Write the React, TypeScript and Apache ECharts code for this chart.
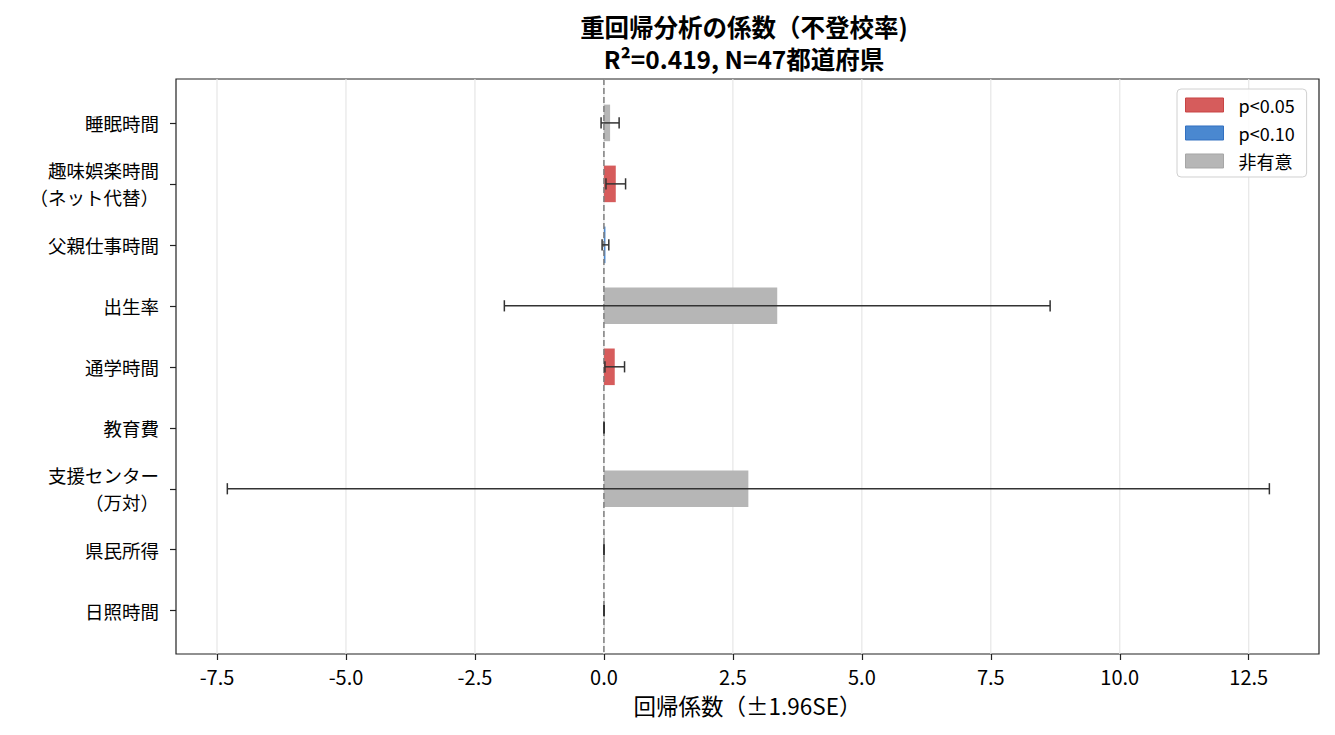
import React, { useEffect, useRef } from 'react';
import * as echarts from 'echarts';

const categories = [
    '睡眠時間',
    '趣味娯楽時間\n（ネット代替）',
    '父親仕事時間',
    '出生率',
    '通学時間',
    '教育費',
    '支援センター\n（万対）',
    '県民所得',
    '日照時間',
];
const coefs = [0.12, 0.23, 0.03, 3.36, 0.21, 0.003, 2.8, 0.001, 0.002];
const errors = [0.175, 0.19, 0.065, 5.29, 0.19, 0.004, 10.1, 0.001, 0.003];
const significance = ['非有意', 'p<0.05', 'p<0.10', '非有意', 'p<0.05', '非有意', '非有意', '非有意', '非有意'];
const sigClasses = ['p<0.05', 'p<0.10', '非有意'];
const xTicks = [-7.5, -5, -2.5, 0, 2.5, 5, 7.5, 10, 12.5];

const titleLines = ['重回帰分析の係数（不登校率)', 'R²=0.419, N=47都道府県'];
const xName = '回帰係数（±1.96SE）';

const fills: Record<string, string> = { 'p<0.05': '#d65c5c', 'p<0.10': '#4a88d0', '非有意': '#b6b6b6' };
const edges: Record<string, string> = { 'p<0.05': '#c84444', 'p<0.10': '#3270c0', '非有意': '#a6a6a6' };

const Y_MIN = -0.72;
const Y_MAX = 8.71;
const FONT = "'Noto Sans CJK JP', 'Noto Sans', sans-serif";

export default function App() {
    const chartRef = useRef<HTMLDivElement>(null);

    useEffect(() => {
        if (!chartRef.current) return;
        const chart = echarts.init(chartRef.current, undefined, { renderer: 'svg' });

        const idx = categories.map((_, i) => i);

        const barSeries = sigClasses.map(name => ({
            name,
            type: 'custom',
            z: 3,
            itemStyle: { color: fills[name] },
            data: idx.filter(i => significance[i] === name).map(i => [coefs[i], i]),
            renderItem: (params: any, api: any) => {
                const c = api.value(0);
                const i = api.value(1);
                const p0 = api.coord([0, i]);
                const p1 = api.coord([c, i]);
                const h = api.size([0, 0.6])[1];
                const x = Math.min(p0[0], p1[0]);
                return {
                    type: 'rect',
                    shape: { x, y: p0[1] - h / 2, width: Math.max(Math.abs(p1[0] - p0[0]), 0.6), height: h },
                    style: { fill: fills[name] },
                };
            },
        }));

        const option = {
            animation: false,
            textStyle: { fontFamily: FONT },
            grid: { left: 176, right: 16, top: 79, bottom: 81, show: true, borderColor: '#222', borderWidth: 1.2 },
            graphic: titleLines.map((t, k) => ({
                type: 'text',
                x: 744,
                y: 26 + k * 32,
                z: 10,
                style: {
                    text: t,
                    align: 'center',
                    verticalAlign: 'middle',
                    fontFamily: FONT,
                    fontSize: 24.5,
                    fontWeight: 'bold',
                    fill: '#000',
                },
            })),
            legend: {
                orient: 'vertical',
                left: 1177,
                top: 89,
                padding: [7, 12, 7, 8],
                itemWidth: 38,
                itemHeight: 14,
                itemGap: 10,
                icon: 'rect',
                backgroundColor: 'rgba(255,255,255,0.85)',
                borderColor: '#d0d0d0',
                borderWidth: 1,
                borderRadius: 4,
                textStyle: { fontSize: 18, color: '#000', padding: [0, 0, 0, 10], fontFamily: FONT },
                data: sigClasses.map(name => ({
                    name,
                    itemStyle: { color: fills[name], borderColor: edges[name], borderWidth: 1 },
                })),
            },
            xAxis: {
                type: 'value',
                min: -8.295,
                max: 13.862,
                name: xName,
                nameLocation: 'middle',
                nameGap: 40,
                nameTextStyle: { fontSize: 22.5, color: '#000', fontFamily: FONT },
                axisLine: { show: false, onZero: false },
                axisTick: { show: true, customValues: xTicks, length: 6, lineStyle: { color: '#222', width: 1.2 } },
                axisLabel: {
                    customValues: xTicks,
                    formatter: (v: number) => v.toFixed(1),
                    fontSize: 20,
                    color: '#000',
                    margin: 12,
                    fontFamily: FONT,
                },
                splitLine: { show: false },
            },
            yAxis: {
                type: 'value',
                inverse: true,
                min: Y_MIN,
                max: Y_MAX,
                axisLine: { show: false, onZero: false },
                axisTick: { show: true, customValues: idx, length: 6, lineStyle: { color: '#222', width: 1.2 } },
                axisLabel: {
                    customValues: idx,
                    formatter: (v: number) => categories[Math.round(v)],
                    fontSize: 18.5,
                    lineHeight: 27,
                    color: '#000',
                    margin: 17,
                    align: 'right',
                    fontFamily: FONT,
                },
                splitLine: { show: false },
            },
            series: [
                {
                    name: 'grid',
                    type: 'custom',
                    z: 1,
                    silent: true,
                    data: xTicks.map(v => [v, 0]),
                    renderItem: (params: any, api: any) => {
                        const a = api.coord([api.value(0), Y_MIN]);
                        const b = api.coord([api.value(0), Y_MAX]);
                        return {
                            type: 'line',
                            shape: { x1: a[0], y1: a[1], x2: b[0], y2: b[1] },
                            style: { stroke: '#e6e6e6', lineWidth: 1.2 },
                        };
                    },
                },
                ...barSeries,
                {
                    name: 'zero',
                    type: 'custom',
                    z: 4,
                    silent: true,
                    data: [[0, 0]],
                    renderItem: (params: any, api: any) => {
                        const a = api.coord([0, Y_MIN]);
                        const b = api.coord([0, Y_MAX]);
                        return {
                            type: 'line',
                            shape: { x1: a[0], y1: a[1], x2: b[0], y2: b[1] },
                            style: { stroke: '#7f7f7f', lineWidth: 1.5, lineDash: [6, 3] },
                        };
                    },
                },
                {
                    name: 'errbar',
                    type: 'custom',
                    z: 5,
                    silent: true,
                    data: idx.map(i => [coefs[i], i, errors[i]]),
                    renderItem: (params: any, api: any) => {
                        const c = api.value(0);
                        const i = api.value(1);
                        const e = api.value(2);
                        const l = api.coord([c - e, i]);
                        const r = api.coord([c + e, i]);
                        const cap = 5.6;
                        const st = { stroke: '#333', lineWidth: 1.5 };
                        return {
                            type: 'group',
                            children: [
                                { type: 'line', shape: { x1: l[0], y1: l[1], x2: r[0], y2: r[1] }, style: st },
                                { type: 'line', shape: { x1: l[0], y1: l[1] - cap, x2: l[0], y2: l[1] + cap }, style: st },
                                { type: 'line', shape: { x1: r[0], y1: r[1] - cap, x2: r[0], y2: r[1] + cap }, style: st },
                            ],
                        };
                    },
                },
            ],
        };

        chart.setOption(option);

        const handleResize = () => chart.resize();
        window.addEventListener('resize', handleResize);
        return () => {
            window.removeEventListener('resize', handleResize);
            chart.dispose();
        };
    }, []);

    return (
        <div
            ref={chartRef}
            style={{ position: 'absolute', left: 0, top: 0, width: 1335, height: 735, background: '#fff' }}
        />
    );
}
